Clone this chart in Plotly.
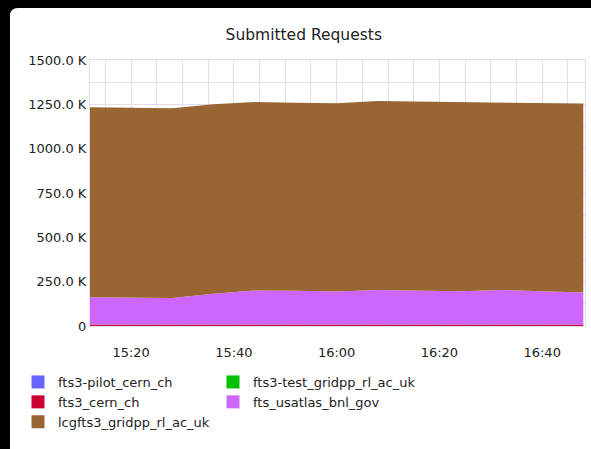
import plotly.graph_objects as go

# ---- data (values in thousands of requests) ----
times = ["2024-05-14 15:12", "2024-05-14 15:20", "2024-05-14 15:28", "2024-05-14 15:36",
         "2024-05-14 15:44", "2024-05-14 15:52", "2024-05-14 16:00", "2024-05-14 16:08",
         "2024-05-14 16:16", "2024-05-14 16:24", "2024-05-14 16:32", "2024-05-14 16:40",
         "2024-05-14 16:48"]
fts3_pilot_cern_ch = [0.3, 0.3, 0.3, 0.3, 0.3, 0.3, 0.3, 0.3, 0.3, 0.3, 0.3, 0.3, 0.3]
fts3_test_gridpp_rl_ac_uk = [0.2, 0.2, 0.2, 0.2, 0.2, 0.2, 0.2, 0.2, 0.2, 0.2, 0.2, 0.2, 0.2]
fts3_cern_ch = [8, 8, 10, 11, 9, 8, 8, 8, 8, 11, 9, 8, 8]
fts_usatlas_bnl_gov = [154, 152, 147, 171, 191, 190, 186, 194, 192, 185, 193, 186, 180]
lcgfts3_gridpp_rl_ac_uk = [1071, 1072, 1071, 1068, 1062, 1060, 1061, 1066, 1066, 1066, 1058, 1064, 1066]

series_names = ["fts3-pilot_cern_ch", "fts3-test_gridpp_rl_ac_uk", "fts3_cern_ch",
                "fts_usatlas_bnl_gov", "lcgfts3_gridpp_rl_ac_uk"]
series_values = [fts3_pilot_cern_ch, fts3_test_gridpp_rl_ac_uk, fts3_cern_ch,
                 fts_usatlas_bnl_gov, lcgfts3_gridpp_rl_ac_uk]
series_colors = ["#6666ff", "#00c000", "#cc0033", "#cc66ff", "#996633"]
legend_of = ["legend", "legend2", "legend", "legend2", "legend"]

y_ticks = [0, 250, 500, 750, 1000, 1250, 1500]
y_tick_labels = ["0", "250.0 K", "500.0 K", "750.0 K", "1000.0 K", "1250.0 K", "1500.0 K"]

FONT = "DejaVu Sans"
GRID = "#e4dcea"

fig = go.Figure()
for name, vals, col, lg in zip(series_names, series_values, series_colors, legend_of):
    fig.add_trace(go.Scatter(
        x=times, y=vals, name=name, stackgroup="one", mode="lines",
        line=dict(width=0, color=col), fillcolor=col, showlegend=False,
        legendgroup=name, hoverinfo="x+y+name"))
# legend entries (square swatches)
legend_order = [0, 2, 4, 1, 3]
for i in legend_order:
    fig.add_trace(go.Scatter(
        x=[None], y=[None], mode="markers", name=series_names[i],
        marker=dict(symbol="square", size=13, color=series_colors[i], line=dict(width=0)),
        legendgroup=series_names[i], legend=legend_of[i], showlegend=True))

W, H = 591, 449
L, R, T, B = 90, 6, 60, 123
pw, ph = W - L - R, H - T - B

def px_x(px):
    return (px - L) / pw

def px_y(py):
    return (H - B - py) / ph

# black frame (left and top bands) with a rounded inner corner
ax0, ax1, ax2 = px_x(0), px_x(10), px_x(W)
ay0, ay1, ay2 = px_y(H), px_y(8), px_y(0)
rx, ry = 8 / pw, 8 / ph
frame = (f"M {ax0} {ay0} L {ax1} {ay0} L {ax1} {ay1 - ry} Q {ax1} {ay1} {ax1 + rx} {ay1} "
         f"L {ax2} {ay1} L {ax2} {ay2} L {ax0} {ay2} Z")

fig.update_layout(
    width=W, height=H,
    margin=dict(l=L, r=R, t=T, b=B),
    paper_bgcolor="white", plot_bgcolor="white",
    font=dict(family=FONT, size=13, color="#222222"),
    title=dict(text="Submitted Requests", x=0.514, xanchor="center", xref="container",
               y=1 - 35 / H, yanchor="middle", yref="container",
               font=dict(family=FONT, size=15.5, color="#222222")),
    shapes=[dict(type="path", path=frame, xref="paper", yref="paper",
                 fillcolor="black", line=dict(width=0), layer="below")],
    showlegend=True,
    legend=dict(x=px_x(18), y=px_y(367), xanchor="left", yanchor="top",
                orientation="v", bgcolor="rgba(0,0,0,0)",
                font=dict(family=FONT, size=13, color="#222222"), tracegroupgap=0),
    legend2=dict(x=px_x(213), y=px_y(367), xanchor="left", yanchor="top",
                 orientation="v", bgcolor="rgba(0,0,0,0)",
                 font=dict(family=FONT, size=13, color="#222222"), tracegroupgap=0),
)

fig.update_xaxes(
    type="date", range=["2024-05-14 15:12:00", "2024-05-14 16:48:20"],
    tick0="2024-05-14 15:00", dtick=20 * 60 * 1000, tickformat="%H:%M",
    showgrid=True, gridcolor=GRID, gridwidth=1,
    minor=dict(dtick=5 * 60 * 1000, tick0="2024-05-14 15:00", showgrid=True,
               gridcolor=GRID, gridwidth=1),
    showline=True, linecolor=GRID, mirror=True, zeroline=False,
    ticks="", ticklabelstandoff=14,
    tickfont=dict(family=FONT, size=13, color="#222222"))
fig.update_yaxes(
    range=[0, 1500], tickvals=y_ticks, ticktext=y_tick_labels,
    showgrid=True, gridcolor=GRID, gridwidth=1,
    minor=dict(dtick=125, showgrid=True, gridcolor=GRID, gridwidth=1),
    showline=True, linecolor=GRID, mirror=True, zeroline=False,
    ticks="", ticklabelstandoff=0,
    tickfont=dict(family=FONT, size=13, color="#222222"))

fig.write_html("out.html", config={"displayModeBar": False},
               post_script="document.body.style.margin='0';")
